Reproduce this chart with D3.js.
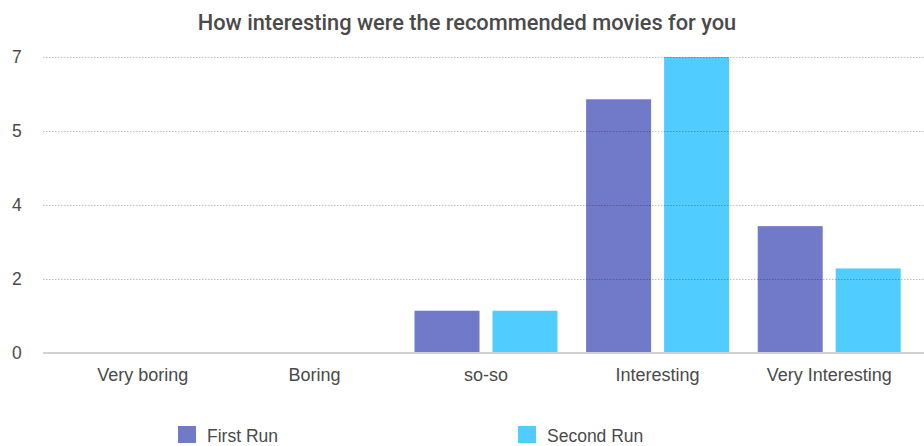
<!DOCTYPE html>
<html>
<head>
<meta charset="utf-8">
<script src="https://cdn.jsdelivr.net/npm/d3@7"></script>
<style>
  html, body { margin: 0; padding: 0; background: #fff; }
  svg { display: block; font-family: "Liberation Sans", Arial, Helvetica, sans-serif; }
</style>
</head>
<body>
<svg id="chart" width="924" height="446"></svg>
<script>
// Survey answers
const categories = ["Very boring", "Boring", "so-so", "Interesting", "Very Interesting"];
const seriesNames = ["First Run", "Second Run"];
const firstRun  = [0, 0, 1, 6, 3];
const secondRun = [0, 0, 1, 7, 2];
const seriesColors = ["#7179c9", "#50cdfe"];
const yTickValues = [0, 1.75, 3.5, 5.25, 7];
const yTickLabels = ["0", "2", "4", "5", "7"];
const title = "How interesting were the recommended movies for you";

const values = [firstRun, secondRun];
const svg = d3.select("#chart");
const W = 924;

const gridLeft = 43, gridRight = 924;
const plotTop = 57, plotBottom = 353;

const x0 = d3.scaleBand().domain(categories).range([57, 915])
  .paddingInner(1 / 6).paddingOuter(1 / 12);
const x1 = d3.scaleBand().domain(seriesNames).range([0, x0.bandwidth()])
  .paddingInner(1 / 6).paddingOuter(0);
const y = d3.scaleLinear().domain([0, 7]).range([plotBottom, plotTop]);
const color = d3.scaleOrdinal().domain(seriesNames).range(seriesColors);

// Title
svg.append("text")
  .attr("x", W / 2 + 5).attr("y", 30)
  .attr("text-anchor", "middle")
  .attr("font-family", "Roboto, 'Liberation Sans', Arial, sans-serif")
  .attr("font-size", 21.8).attr("font-weight", 500)
  .attr("fill", "#4a4a4a")
  .text(title);

// Bars
const rows = categories.map((c, i) => ({
  cat: c,
  vals: seriesNames.map((s, j) => ({ series: s, value: values[j][i] }))
}));
const groups = svg.append("g").selectAll("g").data(rows).join("g")
  .attr("transform", d => `translate(${x0(d.cat)},0)`);
groups.selectAll("rect").data(d => d.vals.filter(v => v.value > 0)).join("rect")
  .attr("x", d => x1(d.series))
  .attr("width", x1.bandwidth())
  .attr("y", d => y(d.value))
  .attr("height", d => y(0) - y(d.value))
  .attr("fill", d => color(d.series));

// Dotted gridlines drawn over the bars
const yAxis = d3.axisLeft(y).tickValues(yTickValues.slice(1))
  .tickSize(-(gridRight - gridLeft)).tickFormat("");
const gAxis = svg.append("g").attr("transform", `translate(${gridLeft},0)`).call(yAxis);
gAxis.select(".domain").remove();
gAxis.selectAll(".tick line")
  .attr("stroke", "rgba(0,0,0,0.25)")
  .attr("stroke-width", 1)
  .attr("stroke-dasharray", "1.5,1.5");

// Baseline
svg.append("line")
  .attr("x1", gridLeft).attr("x2", gridRight)
  .attr("y1", y(0)).attr("y2", y(0))
  .attr("stroke", "#d2d2d2").attr("stroke-width", 2);

// Y tick labels
svg.append("g").selectAll("text").data(yTickValues).join("text")
  .attr("x", 12).attr("y", d => y(d))
  .attr("dy", "0.36em")
  .attr("font-size", 17.5).attr("fill", "#4a4a4a")
  .text((d, i) => yTickLabels[i]);

// Category labels
svg.append("g").selectAll("text").data(categories).join("text")
  .attr("x", d => x0(d) + x0.bandwidth() / 2)
  .attr("y", 381)
  .attr("text-anchor", "middle")
  .attr("font-size", 18).attr("fill", "#4a4a4a")
  .text(d => d);

// Legend
const legendX = d3.scalePoint().domain(seriesNames).range([178, 518]);
const lg = svg.append("g").selectAll("g").data(seriesNames).join("g")
  .attr("transform", d => `translate(${legendX(d)},426)`);
lg.append("rect").attr("width", 18).attr("height", 17).attr("fill", d => color(d));
lg.append("text").attr("x", 29).attr("y", 15.5)
  .attr("font-size", 17.5).attr("fill", "#4a4a4a")
  .text(d => d);
</script>
</body>
</html>
